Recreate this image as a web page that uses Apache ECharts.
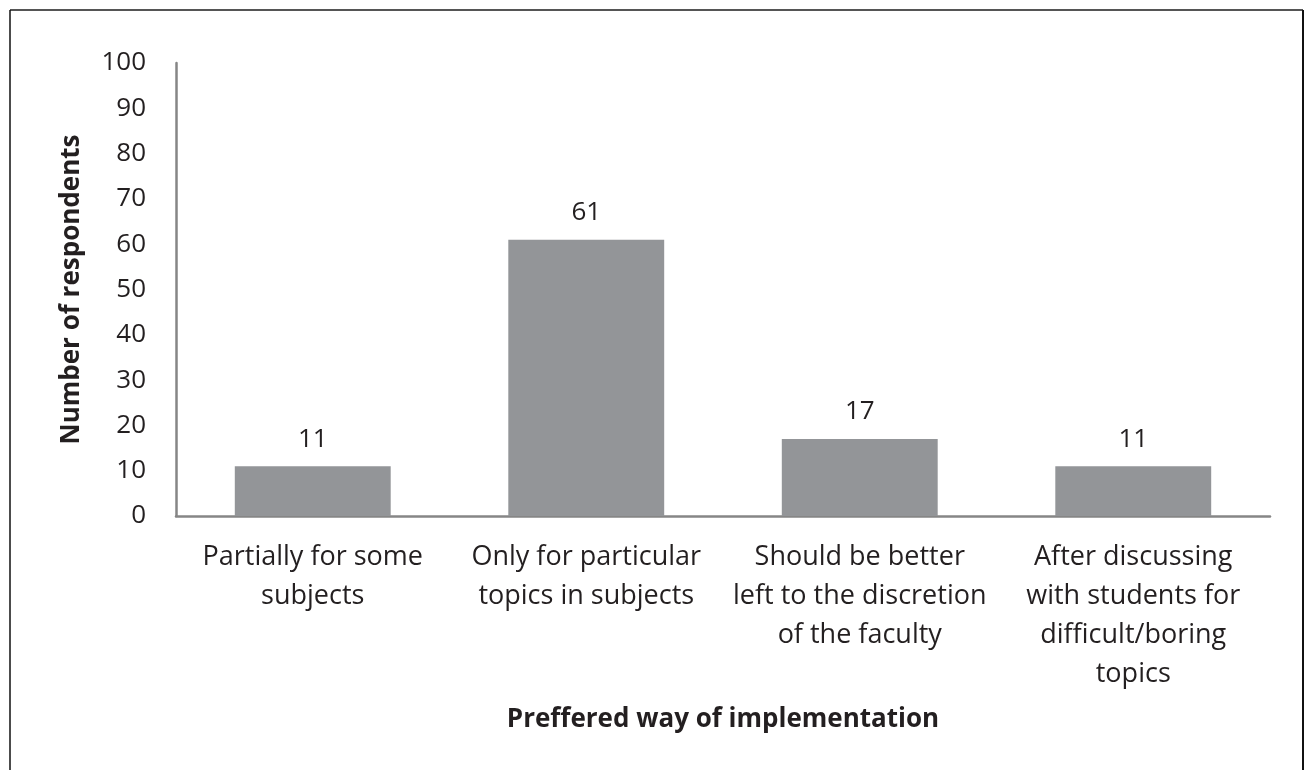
<!DOCTYPE html>
<html>
<head>
<meta charset="utf-8">
<script src="https://cdn.jsdelivr.net/npm/echarts@6/dist/echarts.min.js"></script>
<style>html,body{margin:0;padding:0;background:#fff;}#c{width:1304px;height:770px;}</style>
</head>
<body>
<div id="c"></div>
<script>
var categories = [
  "Partially for some\nsubjects",
  "Only for particular\ntopics in subjects",
  "Should be better\nleft to the discretion\nof the faculty",
  "After discussing\nwith students for\ndifficult/boring\ntopics"
];
var values = [11, 61, 17, 11];
var yTicks = { min: 0, max: 100, interval: 10 };
var xTitle = "Preffered way of implementation";
var yTitle = "Number of respondents";

var font = "'Open Sans', 'Noto Sans', sans-serif";
var chart = echarts.init(document.getElementById('c'), null, { renderer: 'canvas' });
chart.setOption({
  animation: false,
  backgroundColor: '#ffffff',
  graphic: [
    { type: 'line', shape: { x1: 10, y1: 10, x2: 1303, y2: 10 }, style: { stroke: '#555555', lineWidth: 2 } },
    { type: 'line', shape: { x1: 10, y1: 10, x2: 10, y2: 770 }, style: { stroke: '#111111', lineWidth: 1.5 } },
    { type: 'line', shape: { x1: 1303, y1: 10, x2: 1303, y2: 770 }, style: { stroke: '#111111', lineWidth: 2 } }
  ],
  grid: { left: 176, right: 34, top: 63, bottom: 254, containLabel: false },
  xAxis: {
    type: 'category',
    data: categories,
    name: xTitle,
    nameLocation: 'middle',
    nameGap: 191,
    nameTextStyle: { fontFamily: font, fontSize: 26, fontWeight: 'bold', color: '#231f20' },
    axisLine: { lineStyle: { color: '#868686', width: 2.5 } },
    axisTick: { show: false },
    axisLabel: { interval: 0, fontFamily: font, fontSize: 27, color: '#231f20', lineHeight: 39, margin: 22 }
  },
  yAxis: {
    type: 'value',
    min: yTicks.min, max: yTicks.max, interval: yTicks.interval,
    name: yTitle,
    nameLocation: 'middle',
    nameGap: 91,
    nameTextStyle: { fontFamily: font, fontSize: 26, fontWeight: 'bold', color: '#231f20' },
    axisLine: { show: true, lineStyle: { color: '#868686', width: 2.5 } },
    axisTick: { show: false },
    splitLine: { show: false },
    axisLabel: { fontFamily: font, fontSize: 26, color: '#231f20', margin: 30 }
  },
  series: [{
    type: 'bar',
    data: values,
    barWidth: '57%',
    itemStyle: { color: '#939598' },
    label: { show: true, position: 'top', distance: 14, fontFamily: font, fontSize: 26, color: '#231f20' }
  }]
});
</script>
</body>
</html>
